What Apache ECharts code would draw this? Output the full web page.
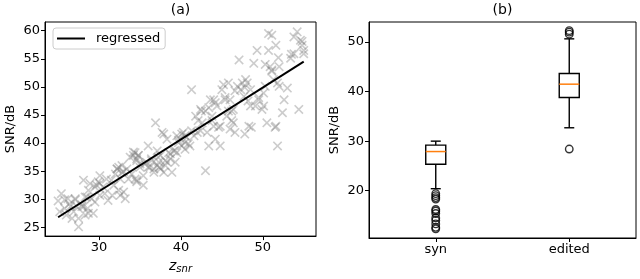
<!DOCTYPE html>
<html>
<head>
<meta charset="utf-8">
<script src="https://cdn.jsdelivr.net/npm/echarts@6/dist/echarts.min.js"></script>
<style>html,body{margin:0;padding:0;background:#fff;}#c{width:640px;height:279px;}</style>
</head>
<body>
<div id="c"></div>
<script>
// ---- data ----
const zSnr = [25.0,25.2,25.8,26.2,26.4,26.7,27.1,27.3,27.5,27.5,27.9,28.1,28.3,28.5,28.6,28.9,29.1,29.3,29.7,29.9,
  30.1,30.1,30.5,31.1,31.8,32.0,32.2,32.4,32.4,32.6,32.8,33.0,33.2,33.4,34.0,34.2,34.4,34.6,34.8,34.6,
  35.0,35.4,35.8,36.2,36.0,36.7,36.9,37.1,37.3,37.5,37.7,37.9,38.1,38.3,38.5,38.7,38.9,39.1,39.3,39.5,
  39.7,39.9,40.1,40.3,40.5,40.7,41.1,41.3,41.6,41.8,42.0,42.4,42.6,43.0,43.2,43.4,43.6,43.8,44.0,44.2,
  44.4,44.8,45.0,45.2,45.4,45.6,45.8,46.0,46.2,46.4,46.9,47.1,47.3,47.5,47.7,47.9,48.3,48.5,48.9,49.3,
  49.5,49.9,50.1,50.3,50.5,50.7,50.7,50.9,51.1,51.3,51.6,51.6,51.8,52.0,52.0,52.4,53.0,53.4,53.8,54.2,
  54.4,54.6,55.0,55.0,
  25.4,26.0,26.9,28.1,28.7,29.5,30.9,31.6,32.6,33.6,34.4,34.6,35.0,35.4,36.4,36.7,37.1,37.5,37.9,38.3,
  39.5,40.1,40.5,42.4,43.0,44.0,44.8,46.0,46.4,46.6,48.1,48.5,49.1,50.1,51.1,51.8,52.6,53.8,54.8,
  25.8,26.5,27.1,27.9,28.3,28.7,29.5,30.1,30.7,31.5,32.2,32.8,33.0,33.8,34.2,34.8,34.6,35.6,36.0,36.4,
  37.2,37.4,38.1,38.7,39.3,39.7,40.5,40.9,41.3,42.1,42.5,43.4,43.8,44.2,44.6,45.4,45.8,46.2,46.6,47.8,
  48.2,49.5,50.3,51.1,51.9,53.5,54.8,51.5,48.6,47.8];
const snrA = [29.7,27.8,28.4,30.1,29.2,26.6,30.1,28.7,25.1,26.6,29.0,33.4,27.2,30.4,28.4,32.8,30.1,27.5,32.5,33.1,
  34.2,30.7,32.2,29.8,32.5,34.5,35.4,31.6,35.7,33.6,34.8,31.3,30.1,35.4,34.5,37.8,38.3,37.2,37.8,33.4,
  35.7,32.5,36.6,35.7,39.5,35.4,43.6,38.6,36.6,37.8,41.9,34.8,36.0,40.7,38.3,37.2,34.8,38.6,36.6,41.3,
  40.1,40.7,39.5,41.9,40.1,41.0,39.5,49.5,41.3,44.8,41.9,46.0,43.6,35.1,41.9,39.5,47.7,44.8,43.0,40.7,
  46.6,39.5,49.5,50.4,47.7,44.8,50.7,42.5,45.7,43.6,50.1,54.8,49.5,50.7,48.3,51.3,43.0,46.6,54.2,56.5,
  47.7,46.0,48.9,50.1,43.6,59.5,56.5,53.6,59.2,51.3,43.0,57.4,39.5,53.6,50.1,45.4,49.8,55.1,58.9,59.8,
  46.0,58.3,56.5,55.9,
  31.0,27.2,27.8,28.7,31.6,29.5,33.6,30.7,30.7,33.6,33.6,33.1,36.3,34.2,37.2,34.8,36.0,35.4,41.6,36.6,
  38.3,41.6,38.9,42.2,45.7,47.7,43.0,47.7,46.0,41.9,50.7,49.5,46.6,46.6,53.0,50.7,47.7,55.9,57.4,
  29.9,28.7,29.9,28.7,30.4,27.5,32.2,32.8,31.0,33.4,35.4,36.0,34.9,37.5,38.4,37.8,36.9,36.3,35.7,36.9,
  37.5,35.7,36.9,38.1,38.7,40.5,41.3,39.9,42.2,44.0,45.7,46.3,44.0,47.2,42.8,48.1,45.7,44.0,49.3,49.9,
  47.5,48.1,54.0,52.8,55.2,55.8,58.1,42.8,42.8,41.6];
const regX = [25, 55];
const regY = [26.8, 54.5];
const xTicksA = [30, 40, 50];
const yTicksA = [25, 30, 35, 40, 45, 50, 55, 60];

const boxCats = ['syn', 'edited'];
// [low whisker, Q1, median, Q3, high whisker]
const boxSyn = [20.4, 25.35, 27.9, 29.2, 30.0];
const boxEdited = [32.7, 38.8, 41.5, 43.65, 50.65];
const outSyn = [19.4, 19.0, 18.6, 18.3, 16.2, 15.9, 15.4, 14.5, 14.0, 13.3, 12.6, 12.3];
const outEdited = [52.3, 52.0, 51.6, 28.4];
const yTicksB = [20, 30, 40, 50];

// ---- chart ----
const FONT = 'DejaVu Sans';
const crossPath = 'path://M0,1.2 L1.2,0 L5,3.8 L8.8,0 L10,1.2 L6.2,5 L10,8.8 L8.8,10 L5,6.2 L1.2,10 L0,8.8 L3.8,5 Z';
const chart = echarts.init(document.getElementById('c'), null, {renderer: 'canvas'});

const axisCommon = {
  axisLine: {show: true, onZero: false, lineStyle: {color: '#000', width: 1}},
  axisTick: {show: true, inside: false, length: 4, lineStyle: {color: '#000', width: 1}},
  axisLabel: {color: '#000', fontSize: 13, fontFamily: FONT, margin: 5},
  splitLine: {show: false}
};

const scatterData = zSnr.map((x, i) => [x, snrA[i]]);
const regData = regX.map((x, i) => [x, regY[i]]);
const boxData = [[0].concat(boxSyn), [1].concat(boxEdited)];
const outData = outSyn.map(v => [0, v]).concat(outEdited.map(v => [1, v]));

chart.setOption({
  animation: false,
  textStyle: {fontFamily: FONT, color: '#000'},
  graphic: [
    {type: 'text', x: 180.5, y: 10, style: {text: '(a)', fontSize: 14, fontFamily: FONT, fill: '#000', align: 'center', verticalAlign: 'middle'}},
    {type: 'text', x: 502.5, y: 10, style: {text: '(b)', fontSize: 14, fontFamily: FONT, fill: '#000', align: 'center', verticalAlign: 'middle'}}
  ],
  legend: {
    data: ['regressed'],
    left: 53, top: 28,
    orient: 'vertical',
    backgroundColor: '#fff',
    borderColor: '#ccc', borderWidth: 1, borderRadius: 3,
    padding: [4, 5, 4, 4],
    itemWidth: 28, itemHeight: 2,
    icon: 'rect',
    textStyle: {fontSize: 13, fontFamily: FONT, color: '#000', padding: [0, 0, 0, 6]}
  },
  grid: [
    {left: 45, right: 324, top: 22, bottom: 41, show: true, borderColor: '#000', borderWidth: 1, backgroundColor: 'transparent'},
    {left: 369, right: 4, top: 22, bottom: 41, show: true, borderColor: '#000', borderWidth: 1, backgroundColor: 'transparent'}
  ],
  xAxis: [
    Object.assign({}, axisCommon, {
      type: 'value', gridIndex: 0, min: 23.4, max: 56.5,
      axisTick: Object.assign({}, axisCommon.axisTick, {customValues: xTicksA}),
      axisLabel: Object.assign({}, axisCommon.axisLabel, {customValues: xTicksA}),
      name: '{z|z}{s|snr}', nameLocation: 'middle', nameGap: 20,
      nameTextStyle: {rich: {
        z: {fontSize: 14, fontStyle: 'italic', fontFamily: FONT, color: '#000'},
        s: {fontSize: 10, fontStyle: 'italic', fontFamily: FONT, color: '#000', verticalAlign: 'bottom', padding: [6, 0, 0, 0]}
      }}
    }),
    Object.assign({}, axisCommon, {
      type: 'category', gridIndex: 1, data: boxCats, boundaryGap: true,
      axisTick: Object.assign({}, axisCommon.axisTick, {alignWithLabel: true})
    })
  ],
  yAxis: [
    Object.assign({}, axisCommon, {
      type: 'value', gridIndex: 0, min: 23.45, max: 61.55,
      axisTick: Object.assign({}, axisCommon.axisTick, {customValues: yTicksA}),
      axisLabel: Object.assign({}, axisCommon.axisLabel, {customValues: yTicksA}),
      name: 'SNR/dB', nameLocation: 'middle', nameGap: 28, nameRotate: 90,
      nameTextStyle: {fontSize: 13, fontFamily: FONT, color: '#000'}
    }),
    Object.assign({}, axisCommon, {
      type: 'value', gridIndex: 1, min: 10.45, max: 54.05,
      axisTick: Object.assign({}, axisCommon.axisTick, {customValues: yTicksB}),
      axisLabel: Object.assign({}, axisCommon.axisLabel, {customValues: yTicksB}),
      name: 'SNR/dB', nameLocation: 'middle', nameGap: 28, nameRotate: 90,
      nameTextStyle: {fontSize: 13, fontFamily: FONT, color: '#000'}
    })
  ],
  series: [
    {
      type: 'scatter', xAxisIndex: 0, yAxisIndex: 0, data: scatterData,
      symbol: crossPath, symbolSize: 9.5, z: 2,
      itemStyle: {color: 'rgba(128,128,128,0.5)'}
    },
    {
      name: 'regressed', type: 'line', xAxisIndex: 0, yAxisIndex: 0, data: regData,
      symbol: 'none', z: 3,
      lineStyle: {color: '#000', width: 2}, itemStyle: {color: '#000'}
    },
    {
      type: 'custom', xAxisIndex: 1, yAxisIndex: 1, data: boxData,
      encode: {x: 0, y: [1, 2, 3, 4, 5]},
      renderItem: function (params, api) {
        const idx = api.value(0);
        const lo = api.value(1), q1 = api.value(2), med = api.value(3), q3 = api.value(4), hi = api.value(5);
        const band = api.size([1, 0])[0];
        const w = band * 0.15, cw = w / 2;
        const cx = api.coord([idx, med])[0];
        const Y = v => api.coord([idx, v])[1];
        const st = {stroke: '#000', lineWidth: 1.4, fill: null};
        return {type: 'group', children: [
          {type: 'line', shape: {x1: cx, y1: Y(q3), x2: cx, y2: Y(hi)}, style: st},
          {type: 'line', shape: {x1: cx, y1: Y(q1), x2: cx, y2: Y(lo)}, style: st},
          {type: 'line', shape: {x1: cx - cw / 2, y1: Y(hi), x2: cx + cw / 2, y2: Y(hi)}, style: st},
          {type: 'line', shape: {x1: cx - cw / 2, y1: Y(lo), x2: cx + cw / 2, y2: Y(lo)}, style: st},
          {type: 'rect', shape: {x: cx - w / 2, y: Y(q3), width: w, height: Y(q1) - Y(q3)}, style: {stroke: '#000', lineWidth: 1.4, fill: '#fff'}},
          {type: 'line', shape: {x1: cx - w / 2, y1: Y(med), x2: cx + w / 2, y2: Y(med)}, style: {stroke: '#ff7f0e', lineWidth: 1.5}}
        ]};
      }
    },
    {
      type: 'scatter', xAxisIndex: 1, yAxisIndex: 1, data: outData,
      symbol: 'circle', symbolSize: 7.5,
      itemStyle: {color: 'rgba(0,0,0,0)', borderColor: '#000', borderWidth: 1.4}
    }
  ]
});
</script>
</body>
</html>
